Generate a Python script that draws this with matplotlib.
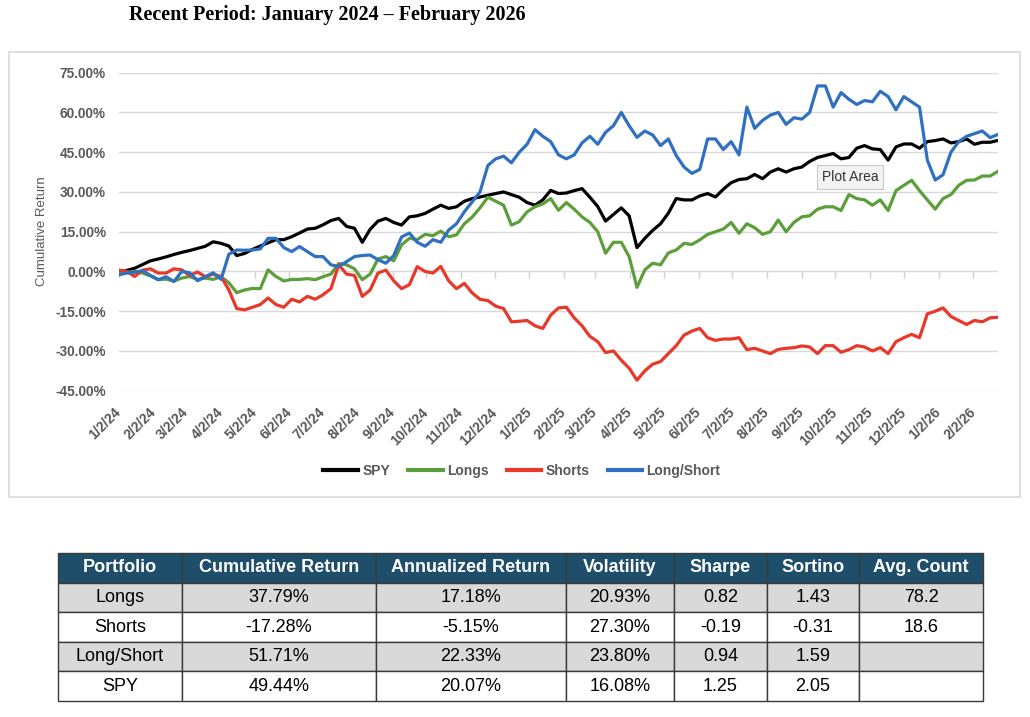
import numpy as np
import pandas as pd
import matplotlib
matplotlib.use("Agg")
import matplotlib.pyplot as plt
from matplotlib.patches import Rectangle
from matplotlib.lines import Line2D

# ---------------- data ----------------
start_date = "2024-01-02"
n_weeks = 113  # weekly observations

spy = [-0.5, 0.4, 1.2, 2.6, 4.0, 4.7, 5.5, 6.4, 7.2, 7.9, 8.7, 9.5, 11.2, 10.6, 9.6, 6.0,
       6.8, 8.3, 9.6, 10.8, 12.0, 12.0, 13.1, 14.5, 16.0, 16.3, 17.6, 19.2, 20.0, 17.0,
       16.3, 11.0, 15.9, 19.0, 20.0, 18.5, 17.5, 20.6, 21.0, 21.9, 23.5, 25.0, 23.8, 24.4,
       26.5, 27.5, 28.1, 28.75, 29.4, 30.0, 29.0, 28.0, 26.0, 25.0, 27.0, 30.6, 29.4, 29.6,
       30.5, 31.25, 28.0, 24.5, 19.0, 21.5, 24.0, 21.0, 9.0, 12.5, 15.5, 18.0, 22.0, 27.5,
       27.0, 27.0, 28.5, 29.4, 28.1, 31.0, 33.5, 34.7, 35.0, 36.6, 35.0, 37.5, 38.75, 37.5,
       38.75, 39.4, 41.5, 43.0, 43.75, 44.5, 42.5, 43.0, 46.5, 47.5, 46.25, 46.0, 42.0, 47.0,
       48.1, 48.1, 46.5, 49.0, 49.4, 50.0, 48.5, 49.0, 50.0, 48.0, 48.75, 48.75, 49.44]

longs = [-0.6, -0.3, 0.0, -0.6, -1.7, -3.1, -2.9, -3.6, -2.5, -1.9, -3.0, -2.5, -3.0, -1.9,
         -4.3, -8.0, -7.0, -6.4, -6.5, 0.6, -1.9, -3.6, -3.0, -3.0, -2.7, -3.1, -2.0, -1.0,
         3.0, 2.5, 1.0, -3.1, -1.0, 4.7, 5.6, 4.0, 10.0, 12.5, 12.0, 14.0, 13.5, 15.2, 13.1,
         13.8, 18.0, 20.5, 24.0, 28.0, 26.5, 25.0, 17.5, 18.8, 22.5, 24.4, 25.5, 27.5, 23.1,
         26.0, 23.5, 20.6, 18.5, 15.0, 6.9, 11.0, 11.0, 5.6, -6.0, 0.6, 3.1, 2.5, 7.0, 8.1,
         10.6, 10.2, 11.9, 14.0, 15.0, 16.0, 18.5, 14.4, 18.0, 16.5, 14.0, 15.0, 19.4, 15.0,
         18.5, 20.6, 21.0, 23.5, 24.4, 24.4, 23.0, 29.0, 27.5, 27.0, 25.0, 27.0, 23.0, 30.5,
         32.5, 34.4, 30.5, 27.0, 23.5, 27.5, 29.0, 32.5, 34.4, 34.5, 36.0, 36.0, 37.79]

shorts = [0.5, 0.0, -1.9, 0.5, 1.0, -0.6, -0.6, 1.0, 0.6, -1.5, -0.2, -2.0, -1.0, -1.9,
          -7.0, -14.0, -14.5, -13.5, -12.5, -10.0, -12.5, -13.5, -10.5, -11.5, -9.4, -10.5,
          -8.8, -6.5, 2.5, -1.0, -1.5, -9.4, -7.0, -0.6, 0.5, -3.5, -6.5, -5.0, 1.8, 0.0,
          -0.6, 1.9, -3.5, -6.5, -4.5, -8.1, -10.5, -11.0, -13.1, -14.0, -19.0, -18.8, -18.5,
          -20.5, -21.5, -16.5, -13.75, -13.5, -17.5, -20.5, -24.5, -26.5, -30.6, -30.0, -33.5,
          -36.5, -41.0, -37.5, -35.0, -34.0, -31.0, -28.0, -24.0, -22.5, -21.5, -25.0, -26.0,
          -25.5, -25.5, -25.0, -29.5, -29.0, -30.0, -31.0, -29.4, -29.0, -28.75, -28.1, -28.5,
          -31.0, -28.0, -28.0, -30.5, -29.5, -28.0, -28.5, -30.0, -28.75, -31.0, -26.5, -25.0,
          -23.75, -25.0, -16.0, -15.0, -13.75, -17.0, -18.5, -20.0, -18.5, -19.0, -17.5, -17.28]

long_short = [-1.25, -0.6, -0.3, 0.3, -1.5, -3.1, -2.0, -3.8, 0.0, -0.5, -3.5, -2.0, -0.5,
              -3.0, 6.5, 8.1, 8.0, 8.1, 8.5, 12.5, 12.5, 9.0, 7.5, 9.4, 7.5, 5.6, 5.6, 2.5,
              1.9, 3.7, 5.6, 6.0, 6.2, 4.4, 3.1, 6.0, 13.0, 14.5, 11.0, 9.5, 12.0, 11.0, 15.6,
              18.0, 22.5, 26.25, 30.0, 40.0, 42.5, 43.5, 41.0, 45.0, 48.0, 53.5, 51.0, 49.0,
              44.0, 42.5, 44.0, 48.5, 51.0, 48.0, 52.5, 55.0, 60.0, 55.0, 50.6, 53.0, 51.5,
              47.5, 50.0, 43.75, 39.4, 37.0, 38.5, 50.0, 50.0, 46.0, 49.0, 44.0, 62.0, 54.0,
              57.0, 59.0, 60.0, 55.5, 58.0, 57.5, 60.0, 70.0, 70.0, 62.0, 67.5, 65.0, 63.0,
              64.5, 64.0, 68.0, 66.0, 61.0, 66.0, 64.0, 62.0, 42.0, 34.5, 36.5, 45.0, 49.0,
              51.0, 52.0, 53.0, 50.5, 51.71]

series_names = ["SPY", "Longs", "Shorts", "Long/Short"]
series_colors = ["#000000", "#5B9E3A", "#E8382A", "#2F70C0"]

tick_labels = ["1/2/24", "2/2/24", "3/2/24", "4/2/24", "5/2/24", "6/2/24", "7/2/24",
               "8/2/24", "9/2/24", "10/2/24", "11/2/24", "12/2/24", "1/2/25", "2/2/25",
               "3/2/25", "4/2/25", "5/2/25", "6/2/25", "7/2/25", "8/2/25", "9/2/25",
               "10/2/25", "11/2/25", "12/2/25", "1/2/26", "2/2/26"]
y_ticks = [-45, -30, -15, 0, 15, 30, 45, 60, 75]

table_headers = ["Portfolio", "Cumulative Return", "Annualized Return", "Volatility",
                 "Sharpe", "Sortino", "Avg. Count"]
portfolios = ["Longs", "Shorts", "Long/Short", "SPY"]
cum_return = [37.79, -17.28, 51.71, 49.44]
ann_return = [17.18, -5.15, 22.33, 20.07]
volatility = [20.93, 27.30, 23.80, 16.08]
sharpe = [0.82, -0.19, 0.94, 1.25]
sortino = [1.43, -0.31, 1.59, 2.05]
avg_count = [78.2, 18.6, None, None]

title = "Recent Period: January 2024 \u2013 February 2026"

# ---------------- figure ----------------
W, H = 1030, 717
fig = plt.figure(figsize=(W / 100, H / 100), dpi=100)
fig.patch.set_facecolor("white")


def fx(px):
    return px / W


def fy(py):
    return 1 - py / H


SANS = ["Liberation Sans", "DejaVu Sans"]
GREY = "#595959"

# chart border
fig.patches.append(Rectangle((fx(9), fy(497)), fx(1020) - fx(9), fy(52) - fy(497),
                             transform=fig.transFigure, fill=False,
                             edgecolor="#d9d9d9", linewidth=1.2))

fig.text(fx(327), fy(15), title, ha="center", va="center", fontsize=14.5,
         fontweight="bold", family=["Liberation Serif", "DejaVu Serif"])

ax = fig.add_axes([fx(119), fy(390.7), fx(998) - fx(119), fy(72.7) - fy(390.7)])
dates = pd.date_range(start_date, periods=n_weeks, freq="7D")
for name, vals, col in zip(series_names, [spy, longs, shorts, long_short], series_colors):
    ax.plot(dates, vals, color=col, lw=2.3, solid_joinstyle="round", label=name)

ax.set_xlim(dates[0], dates[-1])
ax.set_ylim(y_ticks[0], y_ticks[-1])
ax.set_yticks(y_ticks)
ax.set_yticklabels([f"{v:.2f}%" for v in y_ticks])
ax.grid(axis="y", color="#d9d9d9", lw=1)
ax.set_axisbelow(True)
for s in ax.spines.values():
    s.set_visible(False)

tick_dates = pd.to_datetime(tick_labels, format="%m/%d/%y")
ax.set_xticks(tick_dates)
ax.set_xticklabels(tick_labels, rotation=45, ha="right", va="center",
                   rotation_mode="anchor")
ax.tick_params(axis="both", length=0, labelcolor=GREY)
ax.tick_params(axis="y", pad=9.5, labelsize=9.8)
ax.tick_params(axis="x", pad=14, labelsize=10)
for lab in ax.get_xticklabels() + ax.get_yticklabels():
    lab.set_fontweight("bold")
    lab.set_family(SANS)

# small tick marks on the zero line
ax.plot(tick_dates, np.zeros(len(tick_dates)), ls="none", marker=3, ms=5,
        color="#d0d0d0", mew=1, clip_on=False, zorder=1)

fig.text(fx(42), fy(231), "Cumulative Return", rotation=90, ha="center", va="center",
         fontsize=9.5, color=GREY, family=SANS)

handles = [Line2D([], [], color=c, lw=3) for c in series_colors]
leg = fig.legend(handles, series_names, loc="center", bbox_to_anchor=(fx(522), fy(471)),
                 ncol=4, frameon=False, handlelength=2.5, handletextpad=0.3,
                 columnspacing=1.3, prop={"family": SANS, "weight": "bold", "size": 10})
for t in leg.get_texts():
    t.set_color(GREY)

fig.text(fx(850), fy(177), "Plot Area", ha="center", va="center", fontsize=10,
         color="#333333", family=SANS,
         bbox=dict(boxstyle="square,pad=0.35", fc="#f3f3f3", ec="#c8c8c8", lw=0.8))

# ---------------- table ----------------
def fmt_pct(v):
    return f"{v:.2f}%"


rows = []
for i in range(len(portfolios)):
    rows.append([portfolios[i], fmt_pct(cum_return[i]), fmt_pct(ann_return[i]),
                 fmt_pct(volatility[i]), f"{sharpe[i]:.2f}", f"{sortino[i]:.2f}",
                 "" if avg_count[i] is None else f"{avg_count[i]:.1f}"])

col_px = [124, 194, 190, 108, 93, 92, 124]
tax = fig.add_axes([fx(58), fy(701), fx(983) - fx(58), fy(553) - fy(701)])
tax.axis("off")
tbl = tax.table(cellText=rows, colLabels=table_headers,
                colWidths=[c / sum(col_px) for c in col_px], cellLoc="center",
                bbox=[0, 0, 1, 1])
tbl.auto_set_font_size(False)
for (r, c), cell in tbl.get_celld().items():
    cell.set_edgecolor("#3a3a3a")
    cell.set_linewidth(1.0)
    txt = cell.get_text()
    txt.set_family(SANS)
    txt.set_fontsize(13)
    if r == 0:
        cell.set_facecolor("#1F4E6B")
        txt.set_color("white")
        txt.set_fontweight("bold")
    else:
        cell.set_facecolor("#D9D9D9" if r % 2 == 1 else "white")
        txt.set_color("black")

fig.savefig("out.png", dpi=100, facecolor="white")
